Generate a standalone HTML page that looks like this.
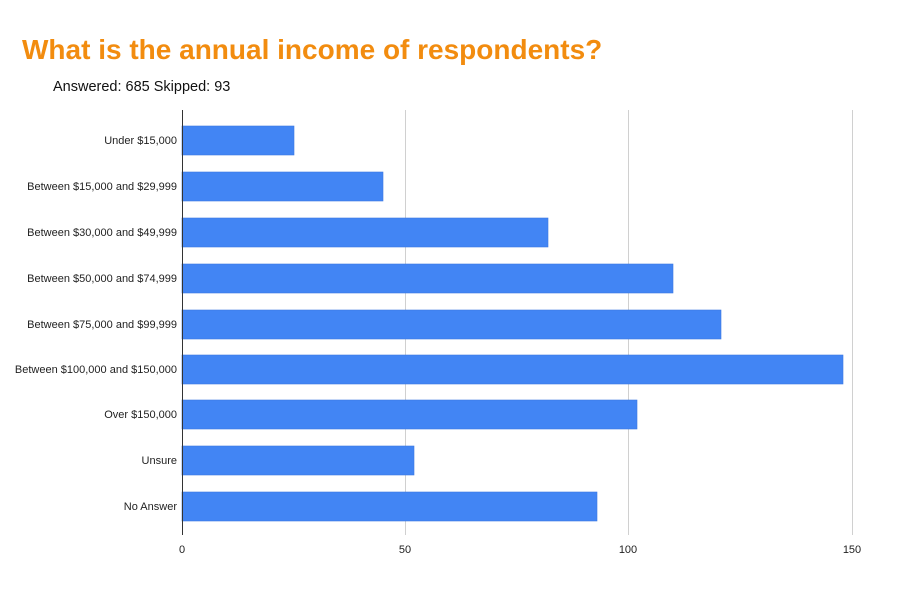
<!DOCTYPE html>
<html><head><style>
body{margin:0;width:900px;height:600px;background:#fff;position:relative;overflow:hidden;font-family:"Liberation Sans",sans-serif}
.t{position:absolute;left:22px;top:34px;font-size:28px;font-weight:bold;color:#f28c0f;white-space:nowrap}
.s{position:absolute;left:53px;top:79px;font-size:14.5px;color:#111;white-space:nowrap}
</style></head><body>
<div class="t">What is the annual income of respondents?</div>
<div class="s">Answered: 685 Skipped: 93</div>
<svg width="900" height="600" style="position:absolute;left:0;top:0" font-family="Liberation Sans, sans-serif" font-size="11" fill="#222">
<g stroke="#d0d0d0" stroke-width="1">
<line x1="405.5" y1="110" x2="405.5" y2="535"/><line x1="628.5" y1="110" x2="628.5" y2="535"/><line x1="852.5" y1="110" x2="852.5" y2="535"/>
</g>
<g fill="#4285f4" stroke="#3b78e0" stroke-width="0.6">
<rect x="182" y="126" width="112" height="29"/>
<rect x="182" y="172" width="201" height="29"/>
<rect x="182" y="218" width="366" height="29"/>
<rect x="182" y="264" width="491" height="29"/>
<rect x="182" y="310" width="539" height="29"/>
<rect x="182" y="355" width="661" height="29"/>
<rect x="182" y="400" width="455" height="29"/>
<rect x="182" y="446" width="232" height="29"/>
<rect x="182" y="492" width="415" height="29"/>
</g>
<line x1="182.5" y1="110" x2="182.5" y2="535" stroke="#333"/>
<g text-anchor="end">
<text x="177" y="144">Under $15,000</text>
<text x="177" y="190">Between $15,000 and $29,999</text>
<text x="177" y="236">Between $30,000 and $49,999</text>
<text x="177" y="282">Between $50,000 and $74,999</text>
<text x="177" y="328">Between $75,000 and $99,999</text>
<text x="177" y="373">Between $100,000 and $150,000</text>
<text x="177" y="418">Over $150,000</text>
<text x="177" y="464">Unsure</text>
<text x="177" y="510">No Answer</text>
</g>
<g text-anchor="middle">
<text x="182" y="553">0</text><text x="405" y="553">50</text><text x="628" y="553">100</text><text x="852" y="553">150</text>
</g>
</svg>
</body></html>
